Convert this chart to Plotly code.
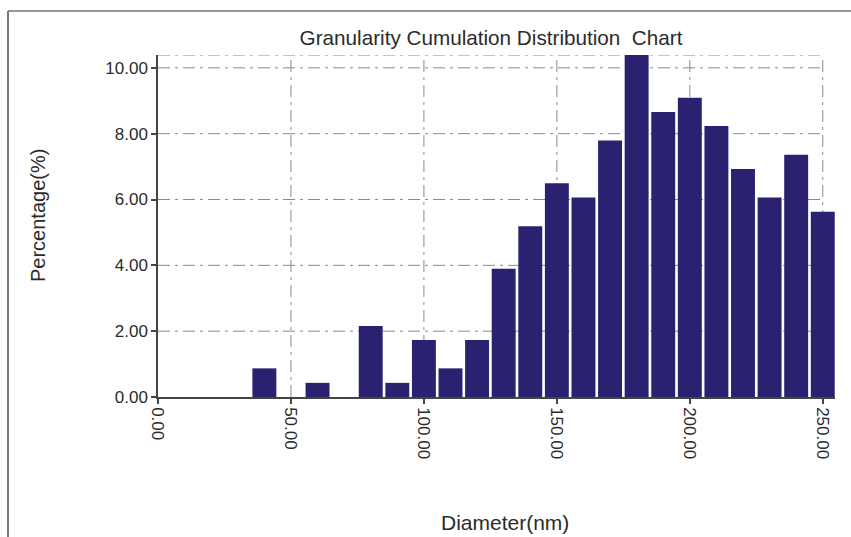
import plotly.graph_objects as go

# Particle size classes (nm) and their share of the sample (%)
diameters = [40, 60, 80, 90, 100, 110, 120, 130, 140, 150,
             160, 170, 180, 190, 200, 210, 220, 230, 240, 250]
percentages = [0.87, 0.43, 2.16, 0.43, 1.73, 0.87, 1.73, 3.90, 5.19, 6.49,
               6.06, 7.79, 10.39, 8.66, 9.09, 8.23, 6.93, 6.06, 7.36, 5.63]

x_ticks = [0, 50, 100, 150, 200, 250]
y_ticks = [0, 2, 4, 6, 8, 10]

title_text = "Granularity Cumulation Distribution  Chart"
x_title = "Diameter(nm)"
y_title = "Percentage(%)"

BAR_COLOR = "#2A2170"
GRID_COLOR = "#8a8a8a"
AXIS_COLOR = "#444444"
TEXT_COLOR = "#2b2b2b"
DASH = "12px,5px,3px,5px"
FONT = "Arial, Liberation Sans, sans-serif"

W, H = 851, 537
M_L, M_R, M_T, M_B = 158, 16, 55, 140
plot_w = W - M_L - M_R
plot_h = H - M_T - M_B

y_top = max(percentages)
x_end = x_ticks[-1]
x_max = 254.6


def px_to_paper_x(px):
    return (px - M_L) / plot_w


def px_to_paper_y(py):
    return (H - M_B - py) / plot_h


fig = go.Figure(go.Bar(
    x=diameters,
    y=percentages,
    marker=dict(color=BAR_COLOR, line=dict(width=0)),
))

shapes = []
# dash-dot grid, bounded by the last tick on x
for xv in x_ticks[1:]:
    shapes.append(dict(type="line", xref="x", yref="y", x0=xv, x1=xv, y0=0, y1=y_top,
                       line=dict(color=GRID_COLOR, width=1, dash=DASH), layer="below"))
for yv in y_ticks[1:] + [y_top]:
    shapes.append(dict(type="line", xref="x", yref="y", x0=0, x1=x_end, y0=yv, y1=yv,
                       line=dict(color=GRID_COLOR, width=1, dash=DASH), layer="below"))

# outer frame (top and left edges)
fx = px_to_paper_x(8)
fy_top = px_to_paper_y(11)
shapes.append(dict(type="line", xref="paper", yref="paper", x0=fx, x1=px_to_paper_x(W + 5),
                   y0=fy_top, y1=fy_top, line=dict(color="#333333", width=1.2)))
shapes.append(dict(type="line", xref="paper", yref="paper", x0=fx, x1=fx,
                   y0=fy_top, y1=px_to_paper_y(H + 5), line=dict(color="#777777", width=2)))

annotations = [
    dict(text=y_title, xref="paper", yref="paper", x=px_to_paper_x(38), y=px_to_paper_y(216),
         textangle=-90, showarrow=False, xanchor="center", yanchor="middle",
         font=dict(family=FONT, size=20, color=TEXT_COLOR)),
    dict(text=x_title, xref="paper", yref="paper", x=px_to_paper_x(505), y=px_to_paper_y(522),
         showarrow=False, xanchor="center", yanchor="middle",
         font=dict(family=FONT, size=21, color=TEXT_COLOR)),
]

fig.update_layout(
    width=W, height=H,
    margin=dict(l=M_L, r=M_R, t=M_T, b=M_B, autoexpand=False),
    paper_bgcolor="white", plot_bgcolor="white",
    bargap=0.1,
    showlegend=False,
    title=dict(text=title_text, x=px_to_paper_x(491), xref="paper", xanchor="center",
               y=1 - 38 / H, yref="container", yanchor="middle",
               font=dict(family=FONT, size=20.7, color=TEXT_COLOR)),
    shapes=shapes,
    annotations=annotations,
    font=dict(family=FONT, color=TEXT_COLOR),
)

fig.update_xaxes(
    range=[0, x_max], tickmode="array", tickvals=x_ticks,
    ticktext=[f"{v:.2f}" for v in x_ticks], tickangle=90,
    ticks="outside", ticklen=5, tickcolor=AXIS_COLOR, tickwidth=1.5,
    showline=True, linecolor=AXIS_COLOR, linewidth=1.5,
    showgrid=False, zeroline=False,
    tickfont=dict(family=FONT, size=17, color=TEXT_COLOR),
)
fig.update_yaxes(
    range=[0, y_top], tickmode="array", tickvals=y_ticks,
    ticktext=[f"{v:.2f}" for v in y_ticks],
    ticks="outside", ticklen=5, tickcolor=AXIS_COLOR, tickwidth=1.5,
    showline=True, linecolor=AXIS_COLOR, linewidth=1.5,
    showgrid=False, zeroline=False,
    tickfont=dict(family=FONT, size=17, color=TEXT_COLOR),
)

fig.write_html("out.html")
